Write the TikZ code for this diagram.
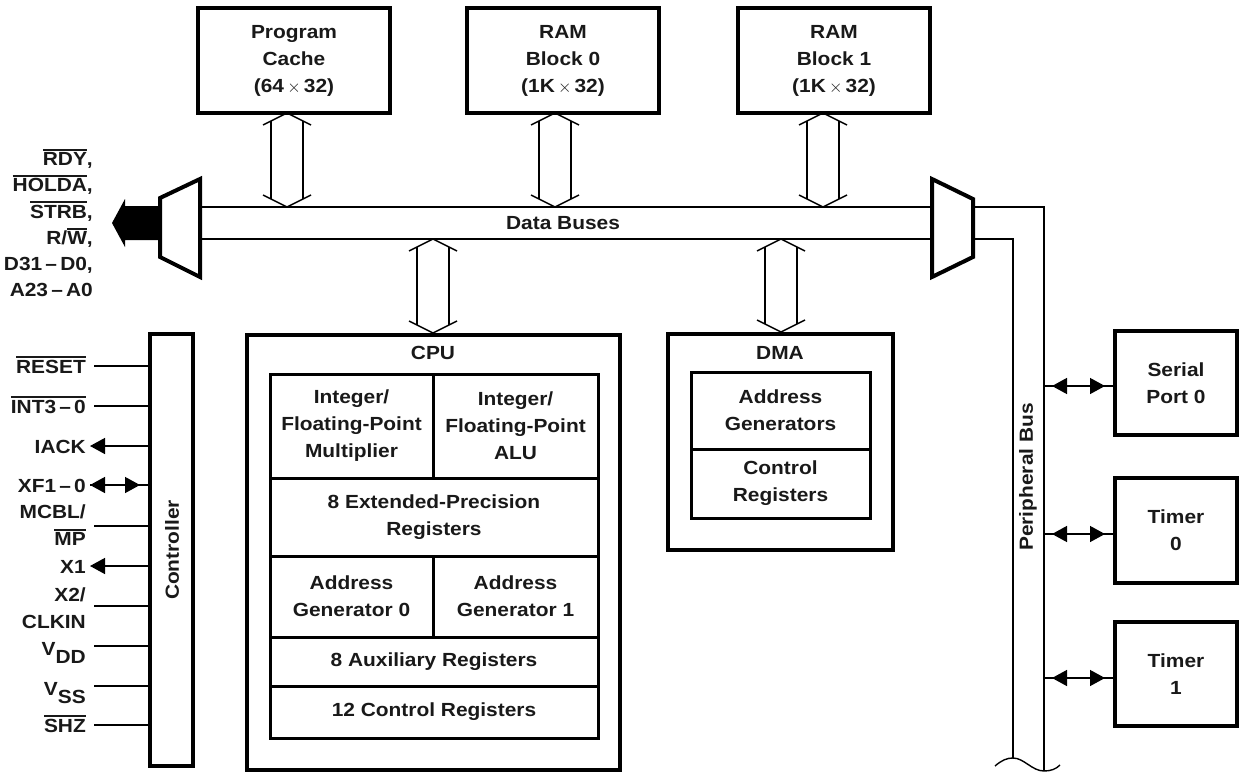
\documentclass[tikz,border=0pt]{standalone}
\usepackage{fontspec}
\setmainfont{Liberation Sans}[FakeStretch=1.1]
\usetikzlibrary{calc,arrows.meta}
\newcommand\ovl[1]{\leavevmode\vbox{\hrule height 1.8pt\kern 1.6pt\hbox{#1}}}
\newcommand\busarrow[2]{%
  \draw[thinln] ($(#1)+(-24,12)$) -- (#1) -- ($(#1)+(24,12)$);
  \draw[thinln] ($(#2)+(-24,-12)$) -- (#2) -- ($(#2)+(24,-12)$);
  \draw[thinln] ($(#1)+(-16,8)$) -- ($(#2)+(-16,-8)$);
  \draw[thinln] ($(#1)+(16,8)$) -- ($(#2)+(16,-8)$);
}
\begin{document}
\begin{tikzpicture}[x=1pt,y=-1pt,
  txt/.style={font=\fontsize{19}{27}\selectfont\bfseries, text=black!90},
  blk/.style={txt, draw, line width=4pt, inner sep=0pt, align=center},
  cell/.style={txt, draw, line width=3pt, inner sep=0pt, align=center},
  thinln/.style={line width=1.4pt},
  pinl/.style={txt, anchor=base east, inner sep=0pt},
  tri/.style={-{Triangle[length=15pt,width=16pt]}},
  dtri/.style={{Triangle[length=15pt,width=16pt]}-{Triangle[length=15pt,width=16pt]}},
]
\useasboundingbox (0,0) rectangle (1242,782);

% top memory blocks
\node[blk, minimum width=192pt, minimum height=105pt] (pc) at (294,60.5) {Program\\Cache\\(64\,$\times$\,32)};
\node[blk, minimum width=192pt, minimum height=105pt] (ram0) at (563,60.5) {RAM\\Block 0\\(1K\,$\times$\,32)};
\node[blk, minimum width=192pt, minimum height=105pt] (ram1) at (834,60.5) {RAM\\Block 1\\(1K\,$\times$\,32)};

% data buses
\coordinate (busTL) at (200,207);
\coordinate (busTR) at (932,207);
\coordinate (busBL) at (200,239);
\coordinate (busBR) at (932,239);
\draw[thinln] (busTL) -- (busTR);
\draw[thinln] (busBL) -- (busBR);
\node[txt] (dblbl) at (563,223) {Data Buses};

% multiplexers
\draw[line width=4pt, line join=miter] (160,198) -- (200,179) -- (200,277) -- (160,257) -- cycle;
\draw[line width=4pt, line join=miter] (932,179) -- (973,199) -- (973,257) -- (932,277) -- cycle;
\fill (158,206) -- (125,206) -- (125,199) -- (112,223) -- (125,247) -- (125,240) -- (158,240) -- cycle;

\node[txt, anchor=east, align=right, inner sep=0pt, font=\fontsize{19}{26.2}\selectfont\bfseries] (extpins) at (93,223)
  {\ovl{RDY},\\\ovl{HOLDA},\\\ovl{STRB},\\R/\ovl{W},\\D31\,–\,D0,\\A23\,–\,A0};

% peripheral bus
\coordinate (rmT) at (973,207);
\coordinate (rmB) at (973,239);
\coordinate (pbL) at (1013,758);
\coordinate (pbR) at (1044,771);
\draw[thinln] (rmT) -| (pbR);
\draw[thinln] (rmB) -| (pbL);
\draw[thinln] (995,766) .. controls (1002,760) and (1007,758) .. (pbL)
  .. controls (1024,758) and (1032,771) .. (pbR)
  .. controls (1051,771) and (1056,769) .. (1060,765);
\node[txt, rotate=90] (pblbl) at (1028,477) {Peripheral Bus};

% CPU
\node[blk, minimum width=373pt, minimum height=435pt] (cpu) at (433.5,552.5) {};
\node[txt] (cpulbl) at (433,353) {CPU};
\node[cell, minimum width=163pt, minimum height=104pt] (mul) at (351.5,426) {Integer/\\Floating-Point\\Multiplier};
\node[cell, minimum width=165pt, minimum height=104pt] (alu) at (515.5,426) {Integer/\\Floating-Point\\ALU};
\node[cell, minimum width=328pt, minimum height=78pt] (ext) at (434,517) {8 Extended-Precision\\Registers};
\node[cell, minimum width=163pt, minimum height=81pt] (ag0) at (351.5,596.5) {Address\\Generator 0};
\node[cell, minimum width=165pt, minimum height=81pt] (ag1) at (515.5,596.5) {Address\\Generator 1};
\node[cell, minimum width=328pt, minimum height=49pt] (aux) at (434,661.5) {8 Auxiliary Registers};
\node[cell, minimum width=328pt, minimum height=52pt] (ctlr) at (434,712) {12 Control Registers};

% DMA
\node[blk, minimum width=225pt, minimum height=216pt] (dma) at (780.5,442) {};
\node[txt] (dmalbl) at (780,353) {DMA};
\node[cell, minimum width=179pt, minimum height=77pt] (dag) at (780.5,410.5) {Address\\Generators};
\node[cell, minimum width=179pt, minimum height=69pt] (dcr) at (780.5,483.5) {Control\\Registers};

% bus arrows
\coordinate (a1t) at (287,113); \coordinate (a1b) at (287,207);
\coordinate (a2t) at (555,113); \coordinate (a2b) at (555,207);
\coordinate (a3t) at (823,113); \coordinate (a3b) at (823,207);
\coordinate (a4t) at (433,239); \coordinate (a4b) at (433,333);
\coordinate (a5t) at (781,239); \coordinate (a5b) at (781,332);
\busarrow{a1t}{a1b}
\busarrow{a2t}{a2b}
\busarrow{a3t}{a3b}
\busarrow{a4t}{a4b}
\busarrow{a5t}{a5b}

% peripherals
\node[blk, minimum width=122pt, minimum height=104pt] (sp) at (1176,383) {Serial\\Port 0};
\node[blk, minimum width=122pt, minimum height=105pt] (t0) at (1176,530.5) {Timer\\0};
\node[blk, minimum width=122pt, minimum height=104pt] (t1) at (1176,674) {Timer\\1};
\coordinate (p1) at (1044,386);
\coordinate (p2) at (1044,534);
\coordinate (p3) at (1044,678);
\foreach \p/\b in {p1/sp,p2/t0,p3/t1}{
  \draw[thinln] (\p) -- (\p -| \b.west);
  \draw[thinln, dtri, shorten <=8pt, shorten >=8pt] (\p) -- (\p -| \b.west);
}

% controller
\node[blk, minimum width=43pt, minimum height=432pt] (ctrl) at (171.5,550) {};
\node[txt, rotate=90] (ctrllbl) at (172,550) {Controller};

\node[pinl] (l1) at (86,373) {\ovl{RESET}};
\node[pinl] (l2) at (86,413) {\ovl{INT3\,–\,0}};
\node[pinl] (l3) at (86,453) {IACK};
\node[pinl] (l4) at (86,492) {XF1\,–\,0};
\node[txt, anchor=east, align=right, inner sep=0pt] (l5) at (86,525) {MCBL/\\\ovl{MP}};
\node[pinl] (l6) at (86,573) {X1};
\node[txt, anchor=east, align=right, inner sep=0pt] (l7) at (86,608) {X2/\\CLKIN};
\node[pinl] (l8) at (86,655) {V\raisebox{-8pt}{DD}};
\node[pinl] (l9) at (86,695) {V\raisebox{-8pt}{SS}};
\node[pinl] (l10) at (86,732) {\ovl{SHZ}};

\coordinate (c1) at (94,366);
\coordinate (c2) at (94,406);
\coordinate (c3) at (90,446);
\coordinate (c4) at (90,485);
\coordinate (c5) at (94,526);
\coordinate (c6) at (90,566);
\coordinate (c7) at (94,606);
\coordinate (c8) at (94,646);
\coordinate (c9) at (94,686);
\coordinate (c10) at (94,725);
\foreach \c in {c1,c2,c5,c7,c8,c9,c10}{
  \draw[thinln] (\c) -- (\c -| ctrl.west);
}
\draw[thinln, tri] (c3 -| ctrl.west) -- (c3);
\draw[thinln, tri] (c6 -| ctrl.west) -- (c6);
\draw[thinln] (c4) -- (c4 -| ctrl.west);
\draw[thinln, dtri, shorten >=8pt] (c4) -- (c4 -| ctrl.west);
\end{tikzpicture}
\end{document}
